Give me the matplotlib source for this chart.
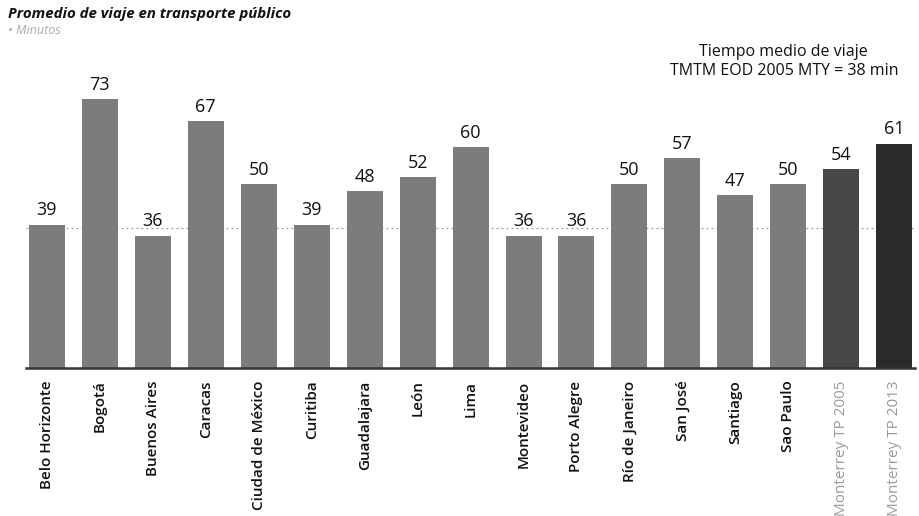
import numpy as np
import matplotlib.pyplot as plt

plt.rcParams['font.family'] = ['Open Sans', 'DejaVu Sans']

cities = ["Belo Horizonte", "Bogotá", "Buenos Aires", "Caracas", "Ciudad de México",
          "Curitiba", "Guadalajara", "León", "Lima", "Montevideo", "Porto Alegre",
          "Río de Janeiro", "San José", "Santiago", "Sao Paulo",
          "Monterrey TP 2005", "Monterrey TP 2013"]
minutes = [39, 73, 36, 67, 50, 39, 48, 52, 60, 36, 36, 50, 57, 47, 50, 54, 61]
reference_min = 38

bar_colors = ["#7c7c7c"] * 15 + ["#474747", "#2a2a2a"]
label_colors = ["#111111"] * 15 + ["#9a9a9a", "#9a9a9a"]

fig = plt.figure(figsize=(9.2, 5.16), dpi=100)
ax = fig.add_axes([0.028, 0.2868, 0.967, 0.5705])

x = np.arange(len(cities))
ax.bar(x, minutes, width=0.68, color=bar_colors, zorder=2)

# reference line (TMTM 38 min)
ax.axhline(reference_min, color="#9a9a9a", linestyle=(0, (1.5, 2.5)), linewidth=0.9, zorder=1)

for xi, v in zip(x, minutes):
    ax.text(xi, v + 1.4, str(v), ha="center", va="bottom", fontsize=13, color="#111111")

ax.set_xlim(-0.4, 16.4)
ax.set_ylim(0, 80)
ax.set_xticks(x)
ax.set_xticklabels(cities, rotation=90, fontsize=11, fontweight="semibold")
for lbl, c in zip(ax.get_xticklabels(), label_colors):
    lbl.set_color(c)
    if c != "#111111":
        lbl.set_fontweight("normal")
ax.tick_params(axis="x", length=0, pad=9)
ax.set_yticks([])
for s in ["top", "right", "left"]:
    ax.spines[s].set_visible(False)
ax.spines["bottom"].set_color("#333333")
ax.spines["bottom"].set_linewidth(1.8)

fig.text(0.009, 0.972, "Promedio de viaje en transporte público", fontsize=10.8,
         fontweight="bold", fontstyle="italic", va="center", ha="left", color="#111111")
fig.text(0.009, 0.94, "• Minutos", fontsize=9, fontstyle="italic", va="center", ha="left",
         color="#aaaaaa")
fig.text(0.852, 0.88, "Tiempo medio de viaje\nTMTM EOD 2005 MTY = 38 min", fontsize=11.5,
         ha="center", va="center", color="#111111", linespacing=1.25)

fig.savefig("out.png", dpi=100)
